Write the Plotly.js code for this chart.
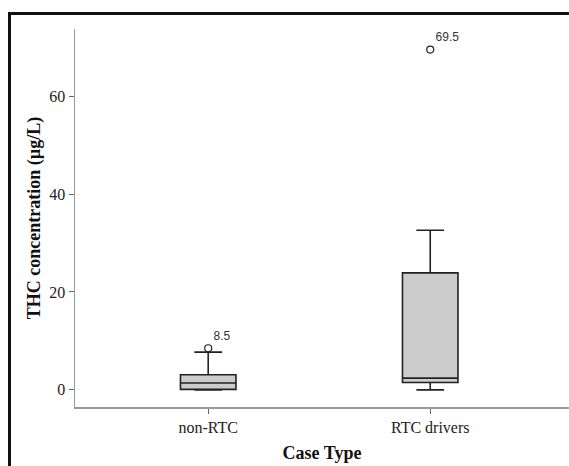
<!DOCTYPE html>
<html><head><meta charset="utf-8">
<script src="https://cdn.plot.ly/plotly-3.0.1.min.js"></script>
<style>
html,body{margin:0;padding:0;background:#fff;}
#wrap{position:relative;width:569px;height:466px;overflow:hidden;}
#frame{position:absolute;left:8px;top:12px;width:600px;height:500px;border-top:3px solid #111;border-left:3px solid #111;pointer-events:none;}
#chart{position:absolute;left:0;top:0;width:569px;height:466px;}
</style></head>
<body><div id="wrap"><div id="chart"></div><div id="frame"></div></div>
<script>
const categories = ["non-RTC", "RTC drivers"];
const lowerWhisker = [0, 0];
const q1Values = [0.1, 1.5];
const medianValues = [1.4, 2.4];
const q3Values = [3.1, 23.9];
const upperWhisker = [7.7, 32.6];
const outlierValues = [8.5, 69.5];
const outlierLabels = ["8.5", "69.5"];

const box = {
  type: 'box',
  x: categories,
  q1: q1Values,
  median: medianValues,
  q3: q3Values,
  lowerfence: lowerWhisker,
  upperfence: upperWhisker,
  fillcolor: '#cccccc',
  line: {color: '#222222', width: 1.6},
  width: 0.25,
  whiskerwidth: 0.5,
  boxpoints: false,
  hoverinfo: 'skip',
  showlegend: false
};
const outliers = {
  type: 'scatter',
  mode: 'markers+text',
  x: categories,
  y: outlierValues,
  text: outlierLabels,
  textposition: 'top right',
  textfont: {family: 'Liberation Sans, Arial, sans-serif', size: 12, color: '#333333'},
  marker: {symbol: 'circle-open', size: 7, color: '#222', line: {width: 1.2}},
  cliponaxis: false,
  showlegend: false,
  hoverinfo: 'skip'
};

const layout = {
  width: 569, height: 466,
  margin: {l: 75, r: 0, t: 29, b: 59},
  paper_bgcolor: '#fff', plot_bgcolor: '#fff',
  showlegend: false,
  font: {family: 'Liberation Serif, Times New Roman, serif', color: '#222'},
  xaxis: {
    type: 'category',
    range: [-0.6, 1.625],
    showline: true, linecolor: '#9a9a9a', linewidth: 1.5,
    ticks: 'outside', ticklen: 5, tickcolor: '#666', tickwidth: 1,
    showgrid: false, zeroline: false,
    tickfont: {size: 16, family: 'Liberation Serif, serif', color: '#222'},
    title: {text: 'Case Type', font: {size: 18, family: 'Liberation Serif, serif', color: '#111', weight: 'bold'}, standoff: 11}
  },
  yaxis: {
    range: [-3.5, 73.7],
    tickvals: [0, 20, 40, 60],
    showline: true, linecolor: '#9a9a9a', linewidth: 1.5,
    ticks: 'outside', ticklen: 5, tickcolor: '#666', tickwidth: 1,
    showgrid: false, zeroline: false,
    tickfont: {size: 16, family: 'Liberation Serif, serif', color: '#222'},
    title: {text: 'THC concentration (µg/L)', font: {size: 18, family: 'Liberation Serif, serif', color: '#111', weight: 'bold'}, standoff: 4}
  }
};
Plotly.newPlot('chart', [box, outliers], layout, {displayModeBar: false, staticPlot: true});
</script></body></html>
